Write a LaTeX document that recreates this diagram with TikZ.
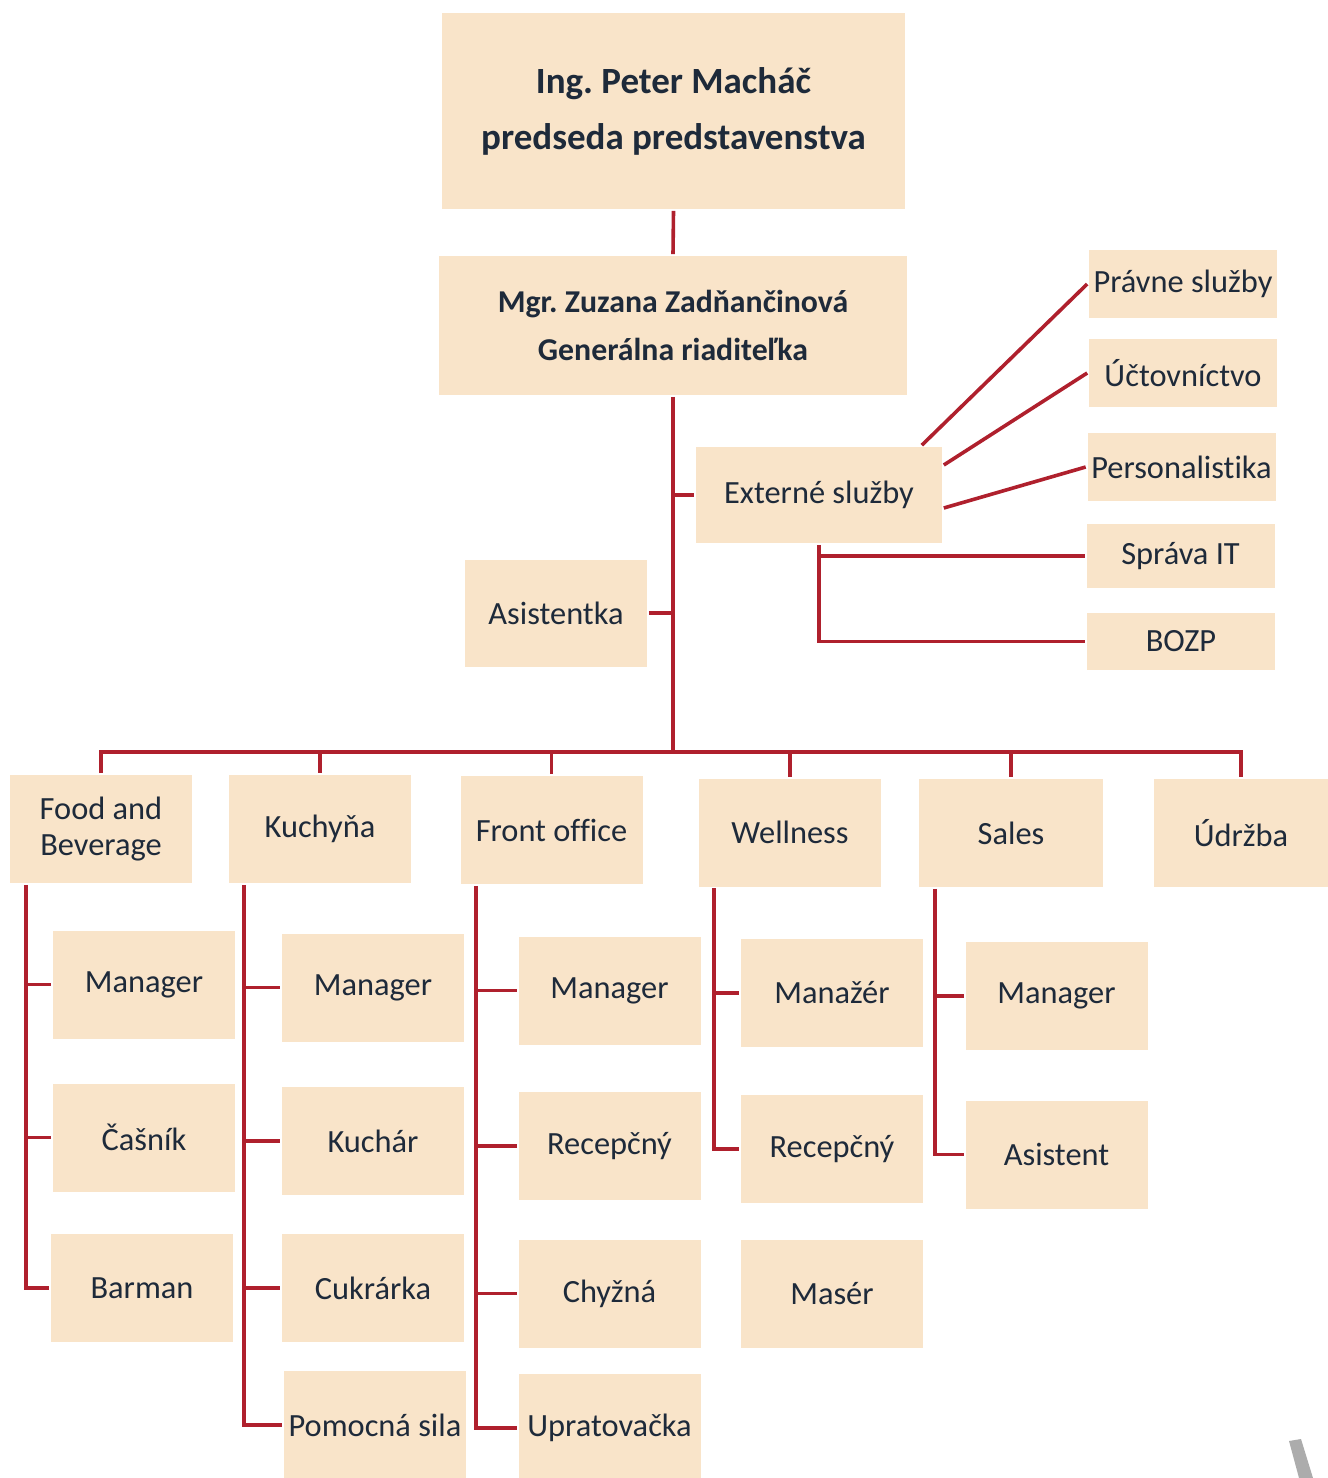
\documentclass[tikz,border=0pt]{standalone}
\usepackage{fontspec}
\setmainfont[Ligatures=NoCommon]{Carlito}
\frenchspacing
\definecolor{peach}{RGB}{249,228,201}
\definecolor{linered}{RGB}{175,32,45}
\definecolor{ink}{RGB}{30,42,58}
\begin{document}
\begin{tikzpicture}[x=0.5pt,y=-0.5pt,line width=1.8pt,
	box/.style={fill=peach,text=ink,inner sep=0pt,minimum width=91pt,minimum height=54pt,align=center,font=\fontsize{16.2}{17.8}\selectfont},
	side/.style={box,minimum width=94pt,minimum height=34pt},
	link/.style={draw=linered}]
		\useasboundingbox (0,0) rectangle (1328,1478);
		\node[box,minimum width=231.5pt,minimum height=98pt,font=\bfseries\fontsize{18.5}{28}\selectfont] (chair) at (673.5,111) {Ing. Peter Macháč\\predseda predstavenstva};
		\node[box,minimum width=234pt,minimum height=69.5pt,font=\bfseries\fontsize{15.9}{24}\selectfont] (gen) at (673,325.5) {Mgr. Zuzana Zadňančinová\\Generálna riaditeľka};
		\node[box,minimum width=123pt,minimum height=48pt] (ext) at (819,495) {Externé služby};
		\node[box,minimum height=53.5pt] (asis) at (556,613) {Asistentka};
		\node[side] (pravne) at (1183,284) {Právne služby};
		\node[side] (ucto) at (1183,373) {Účtovníctvo};
		\node[side] (pers) at (1181.5,467) {Personalistika};
		\node[side,minimum height=32pt] (it) at (1180.5,556) {Správa IT};
		\node[side,minimum height=28.5pt] (bozp) at (1181,641.5) {BOZP};
		\coordinate (bus) at (673,752);
		\node[box] (fb) at (101,829) {Food and\\Beverage};
		\node[box] (kuch) at (320,829) {Kuchyňa};
		\node[box] (front) at (551.5,830) {Front office};
		\node[box] (well) at (790,832.5) {Wellness};
		\node[box,minimum width=92pt] (sales) at (1011,833) {Sales};
		\node[box,minimum width=87pt] (udr) at (1241,833) {Údržba};
		\node[box] (fb1) at (144,984.5) {Manager};
		\node[box] (fb2) at (144,1137.5) {Čašník};
		\node[box] (fb3) at (142,1288) {Barman};
		\node[box] (ku1) at (373,987.5) {Manager};
		\node[box] (ku2) at (373,1141) {Kuchár};
		\node[box] (ku3) at (373,1288) {Cukrárka};
		\node[box] (ku4) at (375,1425) {Pomocná sila};
		\node[box] (fo1) at (609.5,990.5) {Manager};
		\node[box] (fo2) at (609.5,1146) {Recepčný};
		\node[box] (fo3) at (609.5,1293.5) {Chyžná};
		\node[box] (fo4) at (609.5,1428) {Upratovačka};
		\node[box] (we1) at (832,993) {Manažér};
		\node[box] (we2) at (832,1149) {Recepčný};
		\node[box] (we3) at (832,1293.5) {Masér};
		\node[box] (sa1) at (1056.5,996) {Manager};
		\node[box] (sa2) at (1056.5,1154.5) {Asistent};
		\draw[link] (chair.south) -- (gen.north);
		\draw[link] (gen.south) -- (bus);
		\draw[link] (gen.south |- ext.west) -- (ext.west);
		\draw[link] (asis.east) -- (gen.south |- asis.east);
		\draw[link] ([xshift=-11pt]ext.north east) -- (pravne.west);
		\draw[link] ([yshift=15pt]ext.east) -- (ucto.west);
		\draw[link] ([yshift=-6.5pt]ext.east) -- (pers.west);
		\draw[link] (ext.south) |- (bozp.west);
		\draw[link] (ext.south |- it.west) -- (it.west);
		\draw[link] (fb.north) -- (fb.north |- bus) -- (udr.north |- bus) -- (udr.north);
		\foreach \n in {kuch,front,well,sales} \draw[link] (\n.north |- bus) -- (\n.north);
		\coordinate (fbx) at ([xshift=9pt]fb.south west);
		\coordinate (kux) at ([xshift=8.5pt]kuch.south west);
		\coordinate (fox) at ([xshift=8.5pt]front.south west);
		\coordinate (wex) at ([xshift=8.5pt]well.south west);
		\coordinate (sax) at ([xshift=9pt]sales.south west);
		\draw[link] (fbx) |- (fb3.west);
		\draw[link] (kux) |- (ku4.west);
		\draw[link] (fox) |- (fo4.west);
		\draw[link] (wex) |- (we2.west);
		\draw[link] (sax) |- (sa2.west);
		\foreach \c in {fb1,fb2} \draw[link] (fbx |- \c.west) -- (\c.west);
		\foreach \c in {ku1,ku2,ku3} \draw[link] (kux |- \c.west) -- (\c.west);
		\foreach \c in {fo1,fo2,fo3} \draw[link] (fox |- \c.west) -- (\c.west);
		\draw[link] (wex |- we1.west) -- (we1.west);
		\draw[link] (sax |- sa1.west) -- (sa1.west);
		\fill[gray!65] (1289,1441) -- (1301,1439) -- (1313,1478) -- (1299,1478) -- cycle;
\end{tikzpicture}
\end{document}
